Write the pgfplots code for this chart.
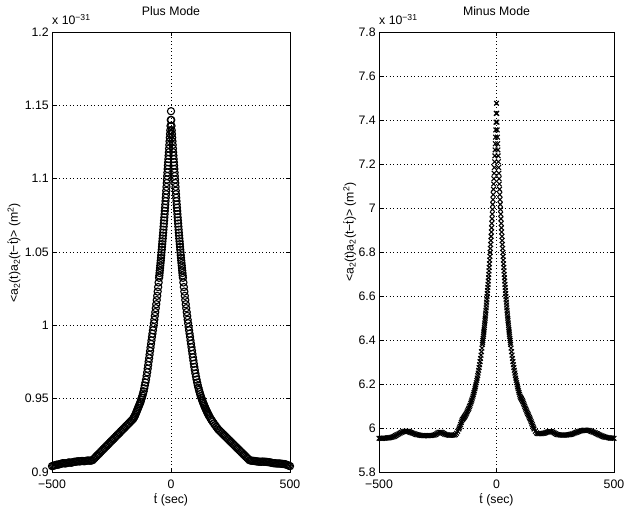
\documentclass[border=0pt]{standalone}
\usepackage{fontspec}
\setmainfont{Liberation Sans}
\usepackage{pgfplots}
\pgfplotsset{compat=1.18}
\begin{document}
\fontsize{12.3}{14}\selectfont
\begin{tikzpicture}[x=1pt,y=1pt]
\useasboundingbox (0,0) rectangle (624,508);
\pgfplotsset{
  every axis/.append style={
    scale only axis, anchor=south west,
    xmin=-500, xmax=500, xtick={-500,0,500}, xticklabels={−500,0,500},
    grid=major,
    major grid style={black, line width=0.45pt, dash pattern=on 0.7pt off 2.8pt},
    tick align=inside, tick pos=both, major tick length=4pt,
    every tick/.style={black, line width=0.5pt},
    axis line style={line width=0.6pt},
    /pgf/number format/assume math mode=true,
    ticklabel style={font=\fontsize{12.3}{14}\selectfont},
    xticklabel style={yshift=-4pt},
    yticklabel style={xshift=1pt},
    scaled ticks=false,
    clip=false,
    title style={at={(axis description cs:0.5,1)}, anchor=base, yshift=10pt, font=\fontsize{12.3}{14}\selectfont},
    xlabel style={at={(axis description cs:0.5,0)}, anchor=base, yshift=-32pt, font=\fontsize{12.3}{14}\selectfont},
    ylabel style={anchor=center, font=\fontsize{12.3}{14}\selectfont},
    xlabel={\'{t} (sec)},
    ylabel={<a\textsubscript{2}(t)a\textsubscript{2}(t−\'{t})> (m\textsuperscript{2})},
  }
}
% ---------------- Plus Mode ----------------
\begin{axis}[at={(52pt,36pt)}, width=238pt, height=440pt,
  ymin=0.9, ymax=1.2, ytick={0.9,0.95,1,1.05,1.1,1.15,1.2},
  yticklabels={0.9,0.95,1,1.05,1.1,1.15,1.2},
  title={Plus Mode},
  ylabel style={at={(axis description cs:-0.16,0.498)}},
]
\addplot[only marks, mark=o, mark size=3.6pt, mark options={line width=1.1pt, black}] coordinates {
(-500,0.904) (-495,0.9042) (-490,0.9045) (-485,0.9047) (-480,0.905) (-475,0.905) (-470,0.9052) (-465,0.9055) (-460,0.9057) (-455,0.906)
(-450,0.906) (-445,0.9058) (-440,0.906) (-435,0.9062) (-430,0.9065) (-425,0.9065) (-420,0.9063) (-415,0.9065) (-410,0.9068) (-405,0.907)
(-400,0.907) (-395,0.9072) (-390,0.9073) (-385,0.9072) (-380,0.9073) (-375,0.9075) (-370,0.9075) (-365,0.9073) (-360,0.9075) (-355,0.9077)
(-350,0.9078) (-345,0.9078) (-340,0.9077) (-335,0.9078) (-330,0.908)
(-325,0.9088) (-320,0.9096) (-315,0.9105) (-310,0.9113) (-305,0.9121) (-300,0.9129) (-295,0.9138) (-290,0.9146) (-285,0.9154) (-280,0.9162)
(-275,0.9171) (-270,0.9179) (-265,0.9187) (-260,0.9195) (-255,0.9204) (-250,0.9212) (-245,0.922) (-240,0.9228) (-235,0.9236) (-230,0.9245)
(-225,0.9253) (-220,0.9261) (-215,0.9269) (-210,0.9278) (-205,0.9286) (-200,0.9294) (-195,0.9302) (-190,0.9311) (-185,0.9319) (-180,0.9327)
(-175,0.9335) (-170,0.9344) (-165,0.9352) (-160,0.936)
(-155,0.9375) (-150,0.939) (-145,0.941) (-140,0.943) (-135,0.945) (-130,0.947) (-125,0.9495) (-120,0.952) (-115,0.955) (-110,0.959) (-105,0.963) (-100,0.968)
(-98,0.9704) (-96,0.9728) (-94,0.9752) (-92,0.9776) (-90,0.980) (-88,0.9825) (-86,0.9849) (-84,0.9873) (-82,0.9897) (-80,0.9921)
(-78,0.9943) (-76,0.9966) (-74,0.9989) (-72,1.0014) (-70,1.0038) (-68,1.0064) (-66,1.009) (-64,1.0117) (-62,1.0144) (-60,1.0172)
(-58,1.0201) (-56,1.023) (-54,1.0261) (-52,1.0292) (-50,1.0324) (-48,1.0357) (-46,1.0391) (-44,1.0425) (-42,1.046) (-40,1.0497)
(-38,1.0535) (-36,1.0573) (-34,1.0612) (-32,1.0652) (-30,1.0694) (-28,1.0736) (-26,1.078) (-24,1.0824) (-22,1.087) (-20,1.0918)
(-19,1.0944) (-18,1.097) (-17,1.0994) (-16,1.1018) (-15,1.1042) (-14,1.1066) (-13,1.109) (-12,1.1112) (-11,1.1134) (-10,1.1157)
(-9,1.118) (-8,1.1205) (-7,1.123) (-6,1.1255) (-5,1.128) (-4,1.1305) (-3,1.133) (-2,1.136) (-1,1.140) (0,1.146)
(1,1.140) (2,1.136) (3,1.133) (4,1.1305) (5,1.128) (6,1.1255) (7,1.123) (8,1.1205) (9,1.118) (10,1.1157)
(11,1.1134) (12,1.1112) (13,1.109) (14,1.1066) (15,1.1042) (16,1.1018) (17,1.0994) (18,1.097) (19,1.0944) (20,1.0918)
(22,1.087) (24,1.0824) (26,1.078) (28,1.0736) (30,1.0694) (32,1.0652) (34,1.0612) (36,1.0573) (38,1.0535) (40,1.0497)
(42,1.046) (44,1.0425) (46,1.0391) (48,1.0357) (50,1.0324) (52,1.0292) (54,1.0261) (56,1.023) (58,1.0201) (60,1.0172)
(62,1.0144) (64,1.0117) (66,1.009) (68,1.0064) (70,1.0038) (72,1.0014) (74,0.9989) (76,0.9966) (78,0.9943) (80,0.9921)
(82,0.9897) (84,0.9874) (86,0.9851) (88,0.9828) (90,0.9805) (92,0.9782) (94,0.976) (96,0.9738) (98,0.9716) (100,0.9695)
(105,0.965) (110,0.961) (115,0.9575) (120,0.9545) (125,0.9518) (130,0.9494) (135,0.9472) (140,0.9452) (145,0.9433) (150,0.9415)
(155,0.9398) (160,0.9382) (165,0.9368) (170,0.9355) (175,0.9343) (180,0.9331) (185,0.932) (190,0.9309) (195,0.9298) (200,0.9288)
(205,0.928) (210,0.9272) (215,0.9264) (220,0.9256) (225,0.9248) (230,0.924) (235,0.9232) (240,0.9224) (245,0.9216) (250,0.9208)
(255,0.92) (260,0.9192) (265,0.9184) (270,0.9176) (275,0.9168) (280,0.916) (285,0.9152) (290,0.9144) (295,0.9136) (300,0.9128)
(305,0.912) (310,0.9112) (315,0.9104) (320,0.9096) (325,0.9088) (330,0.908)
(335,0.9078) (340,0.9077) (345,0.9076) (350,0.9075) (355,0.9074) (360,0.9072) (365,0.9072) (370,0.907) (375,0.907) (380,0.907)
(385,0.9071) (390,0.907) (395,0.907) (400,0.9069) (405,0.9068) (410,0.9067) (415,0.9066) (420,0.9064) (425,0.9062) (430,0.906)
(435,0.906) (440,0.9059) (445,0.9058) (450,0.9058) (455,0.9058) (460,0.9057) (465,0.9056) (470,0.9055) (475,0.9054) (480,0.9053)
(485,0.905) (490,0.9047) (495,0.9043) (500,0.904)
(21,1.0894) (23,1.0847) (25,1.0802) (27,1.0758) (29,1.0715) (31,1.0673) (33,1.0632) (35,1.0592) (37,1.0554) (39,1.0516)
(41,1.0478) (43,1.0442) (45,1.0408) (47,1.0374) (49,1.034)
(-21,1.0894) (-23,1.0847) (-25,1.0802) (-27,1.0758) (-29,1.0715) (-31,1.0673) (-33,1.0632) (-35,1.0592) (-37,1.0554) (-39,1.0516)
(-41,1.0478) (-43,1.0442) (-45,1.0408) (-47,1.0374) (-49,1.034)
(-102.5,0.9655) (-107.5,0.961) (-112.5,0.957) (-117.5,0.9535) (-122.5,0.9507) (-127.5,0.948) (-132.5,0.946) (-137.5,0.944) (-142.5,0.942) (-147.5,0.94) (-152.5,0.938) (-157.5,0.9367)
(102.5,0.9672) (107.5,0.963) (112.5,0.9592) (117.5,0.956) (122.5,0.9531) (127.5,0.9506) (132.5,0.9483) (137.5,0.9462) (142.5,0.9442) (147.5,0.9424) (152.5,0.9406) (157.5,0.939)
};
\node[anchor=base west, inner sep=0pt, yshift=7pt, font=\fontsize{12.3}{14}\selectfont] at (rel axis cs:0,1) {x 10\textsuperscript{−31}};
\end{axis}
% ---------------- Minus Mode ----------------
\begin{axis}[at={(379pt,36pt)}, width=235pt, height=440pt,
  ymin=5.8, ymax=7.8, ytick={5.8,6,6.2,6.4,6.6,6.8,7,7.2,7.4,7.6,7.8},
  yticklabels={5.8,6,6.2,6.4,6.6,6.8,7,7.2,7.4,7.6,7.8},
  title={Minus Mode},
  ylabel style={at={(axis description cs:-0.125,0.545)}},
]
\addplot[only marks, mark=x, mark size=3.3pt, mark options={line width=1.1pt, black}] coordinates {
(-500,5.953) (-495,5.953) (-490,5.953) (-485,5.953) (-480,5.954) (-475,5.954) (-470,5.954) (-465,5.955) (-460,5.955) (-455,5.956)
(-450,5.957) (-445,5.958) (-440,5.960) (-435,5.962) (-430,5.965) (-425,5.968) (-420,5.971) (-415,5.974) (-410,5.977) (-405,5.980)
(-400,5.982) (-395,5.984) (-390,5.985) (-385,5.985) (-380,5.985) (-375,5.984) (-370,5.982) (-365,5.980) (-360,5.978) (-355,5.976)
(-350,5.974) (-345,5.972) (-340,5.970) (-335,5.969) (-330,5.968) (-325,5.967) (-320,5.966) (-315,5.966) (-310,5.965) (-305,5.965)
(-300,5.965) (-295,5.965) (-290,5.965) (-285,5.966) (-280,5.966) (-275,5.966) (-270,5.967) (-265,5.968) (-260,5.970) (-255,5.973)
(-250,5.977) (-245,5.980) (-240,5.981) (-235,5.980) (-230,5.978) (-225,5.975) (-220,5.972) (-215,5.970) (-210,5.969) (-205,5.968)
(-200,5.967) (-195,5.967) (-190,5.967) (-185,5.968) (-180,5.968) (-175,5.970) (-170,5.976) (-165,5.985) (-160,5.995) (-155,6.008)
(-150,6.025) (-145,6.038) (-140,6.045) (-135,6.053) (-130,6.062) (-125,6.073) (-120,6.084) (-115,6.097) (-110,6.112) (-105,6.127)
(-100,6.145) (-98,6.153) (-96,6.161) (-94,6.169) (-92,6.178) (-90,6.187) (-88,6.196) (-86,6.206) (-84,6.216) (-82,6.227)
(-80,6.238) (-78,6.250) (-76,6.262) (-74,6.275) (-72,6.288) (-70,6.302) (-68,6.316) (-66,6.331) (-64,6.347) (-62,6.363)
(-60,6.380) (-58,6.398) (-56,6.417) (-54,6.436) (-52,6.456) (-50,6.477) (-48,6.499) (-46,6.522) (-44,6.546) (-42,6.572)
(-40,6.598) (-38,6.625) (-36,6.653) (-34,6.683) (-32,6.714) (-30,6.746) (-28,6.780) (-26,6.816) (-24,6.852) (-22,6.891)
(-20,6.930) (-19,6.951) (-18,6.972) (-17,6.994) (-16,7.016) (-15,7.038) (-14,7.061) (-13,7.085) (-12,7.109) (-11,7.133)
(-10,7.158) (-9,7.184) (-8,7.210) (-7,7.237) (-6,7.264) (-5,7.292) (-4,7.322) (-3,7.355) (-2,7.390) (-1,7.430) (0,7.476)
(1,7.430) (2,7.390) (3,7.355) (4,7.322) (5,7.292) (6,7.264) (7,7.237) (8,7.210) (9,7.184) (10,7.158)
(11,7.133) (12,7.109) (13,7.085) (14,7.061) (15,7.038) (16,7.016) (17,6.994) (18,6.972) (19,6.951) (20,6.930)
(22,6.891) (24,6.852) (26,6.816) (28,6.780) (30,6.746) (32,6.714) (34,6.683) (36,6.653) (38,6.625) (40,6.598)
(42,6.572) (44,6.546) (46,6.522) (48,6.499) (50,6.477) (52,6.456) (54,6.436) (56,6.417) (58,6.398) (60,6.380)
(62,6.363) (64,6.347) (66,6.331) (68,6.316) (70,6.302) (72,6.288) (74,6.275) (76,6.262) (78,6.250) (80,6.238)
(82,6.227) (84,6.216) (86,6.206) (88,6.196) (90,6.187) (92,6.178) (94,6.169) (96,6.161) (98,6.153) (100,6.145)
(105,6.135) (110,6.125) (115,6.112) (120,6.098) (125,6.085) (130,6.072) (135,6.060) (140,6.048) (145,6.036) (150,6.022)
(155,6.008) (160,5.995) (165,5.985) (170,5.978) (175,5.975) (180,5.974) (185,5.974) (190,5.974) (195,5.975) (200,5.976)
(205,5.977) (210,5.979) (215,5.981) (220,5.983) (225,5.984) (230,5.984) (235,5.983) (240,5.981) (245,5.978) (250,5.975)
(255,5.972) (260,5.970) (265,5.969) (270,5.968) (275,5.968) (280,5.968) (285,5.968) (290,5.968) (295,5.968) (300,5.968)
(305,5.969) (310,5.970) (315,5.971) (320,5.972) (325,5.974) (330,5.976) (335,5.978) (340,5.980) (345,5.982) (350,5.984)
(355,5.986) (360,5.987) (365,5.988) (370,5.989) (375,5.990) (380,5.990) (385,5.990) (390,5.989) (395,5.988) (400,5.986)
(405,5.984) (410,5.982) (415,5.980) (420,5.978) (425,5.975) (430,5.973) (435,5.970) (440,5.968) (445,5.965) (450,5.963)
(455,5.961) (460,5.959) (465,5.958) (470,5.957) (475,5.956) (480,5.955) (485,5.954) (490,5.954) (495,5.953) (500,5.953)
(21,6.910) (23,6.871) (25,6.834) (27,6.798) (29,6.763) (31,6.730) (33,6.698) (35,6.668) (37,6.639) (39,6.611)
(41,6.585) (43,6.559) (45,6.534) (47,6.510) (49,6.488) (51,6.466) (53,6.446) (55,6.426) (57,6.407) (59,6.389)
(-21,6.910) (-23,6.871) (-25,6.834) (-27,6.798) (-29,6.763) (-31,6.730) (-33,6.698) (-35,6.668) (-37,6.639) (-39,6.611)
(-41,6.585) (-43,6.559) (-45,6.534) (-47,6.510) (-49,6.488) (-51,6.466) (-53,6.446) (-55,6.426) (-57,6.407) (-59,6.389)
(-102.5,6.136) (-107.5,6.119) (-112.5,6.104) (-117.5,6.090) (-122.5,6.078) (-127.5,6.067) (-132.5,6.057) (-137.5,6.049) (-142.5,6.041) (-147.5,6.032) (-152.5,6.016) (-157.5,6.001)
(102.5,6.140) (107.5,6.130) (112.5,6.119) (117.5,6.105) (122.5,6.091) (127.5,6.078) (132.5,6.066) (137.5,6.054) (142.5,6.042) (147.5,6.029) (152.5,6.015) (157.5,6.001)
};
\node[anchor=base west, inner sep=0pt, yshift=7pt, font=\fontsize{12.3}{14}\selectfont] at (rel axis cs:0,1) {x 10\textsuperscript{−31}};
\end{axis}
\end{tikzpicture}
\end{document}
